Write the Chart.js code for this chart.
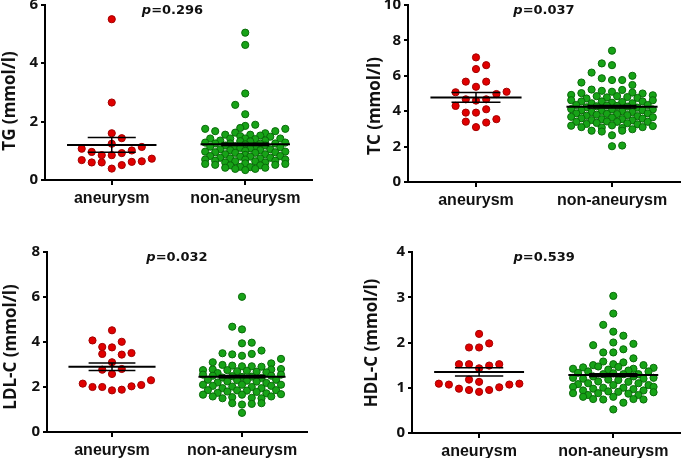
<!DOCTYPE html>
<html><head><meta charset="utf-8">
<script src="https://cdn.jsdelivr.net/npm/chart.js@4.4.1/dist/chart.umd.min.js"></script>
<style>
html,body{margin:0;padding:0;background:#fff;}
body{width:685px;height:458px;position:relative;overflow:hidden;}
canvas{position:absolute;}
</style></head><body>
<canvas id="c1" width="340" height="210" style="left:0;top:0"></canvas>
<canvas id="c2" width="345" height="210" style="left:340px;top:0"></canvas>
<canvas id="c3" width="340" height="218" style="left:0;top:240px"></canvas>
<canvas id="c4" width="345" height="218" style="left:340px;top:240px"></canvas>
<script>
// ---------- data ----------
const categories = ['aneurysm', 'non-aneurysm'];
const yTitles = ['TG (mmol/l)', 'TC (mmol/l)', 'LDL-C (mmol/l)', 'HDL-C (mmol/l)'];
const pValues = ['0.296', '0.037', '0.032', '0.539'];
const yMaxes = [6, 10, 8, 4];
const ySteps = [2, 2, 2, 1];
// [swarm column, value]
const tgAneurysm = [[0,5.50],[0,2.65],[0,1.60],[1,1.43],[0,1.24],[3,1.13],[-3,1.07],[-2,0.96],[2,1.01],[-1,0.85],[0,0.85],[1,0.92],[-3,0.68],[-2,0.60],[-1,0.60],[2,0.62],[3,0.64],[4,0.73],[1,0.51],[0,0.39]];
const tgNon = [[0,5.04],[0,4.62],[0,2.96],[-1,2.57],[0,2.25],[1,1.89],[0,1.85],[-0.5,1.78],
 [-4,1.75],[4,1.75],[-3,1.67],[3,1.67],[2,1.60],[-1,1.62],
 [-2,1.55],[0.5,1.55],[1.5,1.52],[-0.5,1.50],[2.5,1.48],
 [-3.5,1.42],[3.5,1.42],[-1.5,1.42],[0,1.42],[1,1.40],
 [-2.5,1.35],[2,1.35],[-0.5,1.33],[0.5,1.32],[-4,1.28],[4,1.28],
 [-3,1.25],[3,1.25],[-1.5,1.25],[1.5,1.24],[0,1.22],
 [-2,1.18],[2,1.18],[-1,1.15],[1,1.15],[-3.5,1.14],[3.5,1.12],
 [-0.5,1.10],[0.5,1.08],[-2.5,1.05],[2.5,1.05],[-1.5,1.02],[1.5,1.02],[0,1.00],
 [-4,0.97],[4,0.97],[-3,0.95],[3,0.95],[-1,0.93],[1,0.93],
 [-2,0.88],[2,0.88],[0,0.86],[-3.5,0.82],[3.5,0.82],[-0.5,0.80],[0.5,0.80],
 [-2.5,0.76],[2.5,0.76],[-1.5,0.74],[1.5,0.74],[-4,0.70],[4,0.70],
 [0,0.70],[-3,0.66],[3,0.66],[-1,0.64],[1,0.64],[-2,0.60],[2,0.60],
 [-4,0.55],[4,0.55],[0,0.57],[-3,0.52],[3,0.52],[-1.5,0.50],[1.5,0.50],
 [-0.5,0.45],[0.5,0.44],[-2,0.42],[2,0.42],[-1,0.38],[1,0.38],[0,0.34]];
const tcAneurysm = [[0,7.04],[1,6.60],[0,6.38],[-1,5.67],[1,5.67],[0,5.38],[-2,5.07],[3,5.10],[2,4.97],[-1,4.67],[1,4.67],[0,4.60],[-2,4.30],[1,4.11],[-1,3.92],[0,3.92],[2,3.55],[-1,3.41],[1,3.36],[0,3.10]];
const tcNon = [[0,7.42],[-1,6.70],[0,6.60],[-2,6.18],[2,6.00],[-1,5.86],[0,5.76],[1,5.76],[-3,5.62],[2,5.48],
 [-2,5.22],[1,5.20],[-1,5.15],[0,5.10],[2,5.05],[-3,5.02],[3,5.00],[-4,4.92],[4,4.90],
 [-1.5,4.85],[0.5,4.85],[1.5,4.80],[-0.5,4.78],[2.5,4.75],[-2.5,4.72],
 [-4,4.62],[4,4.62],[-3,4.55],[3,4.55],[-1,4.55],[1,4.52],[0,4.48],[-2,4.45],[2,4.45],
 [-3.5,4.35],[3.5,4.35],[-0.5,4.32],[0.5,4.30],[-1.5,4.28],[1.5,4.26],[-2.5,4.22],[2.5,4.20],
 [-4,4.12],[4,4.10],[0,4.10],[-3,4.05],[3,4.05],[-1,4.02],[1,4.00],[-2,3.95],[2,3.95],
 [-3.5,3.88],[3.5,3.88],[-0.5,3.85],[0.5,3.84],[-1.5,3.80],[1.5,3.78],[-2.5,3.74],[2.5,3.72],
 [-4,3.68],[4,3.66],[0,3.64],[-3,3.60],[3,3.58],[-1,3.55],[1,3.55],[-2,3.50],[2,3.48],
 [-0.5,3.42],[0.5,3.40],[-3.5,3.40],[3.5,3.40],[-1.5,3.34],[1.5,3.32],[-2.5,3.28],[2.5,3.26],
 [-4,3.18],[4,3.16],[0,3.20],[-3,3.10],[3,3.10],[-1,3.08],[1,3.05],
 [-2,2.90],[2,2.98],[-1,2.85],[1,2.90],[0,2.64],[0,2.02],[1,2.06]];
const ldlAneurysm = [[0,4.52],[-2,4.07],[1,4.01],[-1,3.78],[0,3.76],[-1,3.47],[1,3.44],[2,3.51],[0,3.10],[-1,2.77],[1,2.80],[0,2.58],[-3,2.15],[4,2.30],[3,2.09],[-2,2.00],[-1,2.00],[2,2.03],[0,1.85],[1,1.88]];
const ldlNon = [[0,6.01],[-1,4.68],[0,4.56],[0,3.94],[1,3.97],[2,3.62],[-2,3.50],[-1,3.45],[0,3.39],[1,3.47],[4,3.25],[-3,3.10],[3,3.05],
 [-2,2.98],[-1,2.95],[0,2.92],[1,2.92],[2,2.90],[-4,2.75],[4,2.80],[-3,2.78],[3,2.78],
 [-1.5,2.75],[0.5,2.72],[-0.5,2.70],[1.5,2.68],[2.5,2.65],[-2.5,2.62],
 [-4,2.55],[4,2.55],[-3,2.50],[3,2.50],[-1,2.48],[1,2.46],[0,2.45],[-2,2.42],[2,2.40],
 [-3.5,2.32],[3.5,2.32],[-0.5,2.30],[0.5,2.28],[-1.5,2.25],[1.5,2.24],[-2.5,2.20],[2.5,2.18],
 [-4,2.10],[4,2.10],[0,2.10],[-3,2.05],[3,2.05],[-1,2.02],[1,2.00],[-2,1.95],[2,1.95],
 [-3.5,1.86],[3.5,1.86],[-0.5,1.85],[0.5,1.84],[-1.5,1.80],[1.5,1.78],[-2.5,1.74],[2.5,1.72],
 [-4,1.66],[4,1.68],[0,1.66],[-3,1.58],[3,1.58],[-1,1.55],[1,1.52],[-2,1.50],[2,1.50],
 [-1,1.28],[0,1.22],[1,1.25],[2,1.28],[0,0.85]];
const hdlAneurysm = [[0,2.19],[1,1.98],[-1,1.89],[0,1.89],[-2,1.52],[-1,1.52],[1,1.49],[2,1.52],[0,1.43],[-1,1.18],[0,1.13],[-4,1.09],[-3,1.07],[3,1.07],[4,1.09],[-2,0.98],[-1,0.95],[1,0.95],[2,1.01],[0,0.91]];
const hdlNon = [[0,3.03],[0,2.64],[-1,2.39],[0,2.24],[1,2.15],[-2,1.94],[0,2.00],[2,1.97],[1,1.85],[-1,1.78],[0,1.78],[2,1.65],
 [-1,1.58],[1,1.56],[0,1.52],[-2,1.50],[3,1.50],[-1.5,1.47],[0.5,1.46],[-3,1.45],[4,1.44],[-4,1.42],[2,1.42],[-0.5,1.40],[1.5,1.38],[3.5,1.36],
 [-2.5,1.36],[-3.5,1.33],[0,1.32],[-1,1.30],[1,1.30],[2.5,1.30],[-2,1.25],[2,1.25],[-4,1.22],[4,1.22],[-3,1.20],[3,1.20],[-0.5,1.18],[0.5,1.17],
 [-1.5,1.14],[1.5,1.13],[-2.5,1.10],[2.5,1.10],[-3.5,1.08],[3.5,1.06],[0,1.06],[-4,1.02],[4,1.02],[-1,1.00],[1,1.00],[-2,0.98],[2,0.97],[-3,0.94],[3,0.94],
 [-0.5,0.92],[0.5,0.91],[-1.5,0.88],[1.5,0.87],[-4,0.88],[4,0.90],[-2.5,0.84],[2.5,0.84],[-3,0.80],[0,0.80],[-2,0.75],[-1,0.74],[2,0.75],[3,0.74],[1,0.67],[0,0.52]];
const means = [[1.20, 1.22], [4.78, 4.25], [2.90, 2.46], [1.35, 1.28]];
const sems  = [[0.25, 0.04], [0.28, 0.07], [0.17, 0.05], [0.09, 0.03]];

// ---------- drawing ----------
const COLORS = [{fill:'#e00000', line:'#a30000'}, {fill:'#17a317', line:'#0a6a0a'}];
const COL_STEP = 0.075;
const INK = '#111';

function panel(id, idx, groups, L) {
  const cv = document.getElementById(id);
  const W = cv.width, H = cv.height;
  const datasets = groups.map((g, i) => ({
    data: g.map(([c, v]) => ({x: i + 1 + c * COL_STEP, y: v})),
    backgroundColor: COLORS[i].fill, borderColor: COLORS[i].line,
    borderWidth: 1, pointRadius: 3.6, pointHoverRadius: 3.6
  }));
  const overlay = {
    id: 'overlay' + idx,
    afterDatasetsDraw(chart) {
      const {ctx, scales: {x, y}, chartArea} = chart;
      ctx.save();
      ctx.strokeStyle = '#000';
      const seg = (x1, y1, x2, y2, lw) => { ctx.lineWidth = lw; ctx.beginPath(); ctx.moveTo(x1, y1); ctx.lineTo(x2, y2); ctx.stroke(); };
      means[idx].forEach((m, i) => {
        const cx = x.getPixelForValue(i + 1);
        const hw = x.getPixelForValue(i + 1.335) - cx;
        const hs = x.getPixelForValue(i + 1.18) - cx;
        const ym = y.getPixelForValue(m);
        const yh = y.getPixelForValue(m + sems[idx][i]);
        const yl = y.getPixelForValue(m - sems[idx][i]);
        seg(cx - hs, yh, cx + hs, yh, 1.5);
        seg(cx - hs, yl, cx + hs, yl, 1.5);
        seg(cx, yh, cx, yl, 1.5);
        seg(cx - hw, ym, cx + hw, ym, 2);
      });
      // p-value caption
      const pFont = 'italic bold 13px "DejaVu Sans"', rFont = 'bold 13px "DejaVu Sans"';
      ctx.fillStyle = INK; ctx.textBaseline = 'middle'; ctx.textAlign = 'left';
      ctx.font = pFont; const w1 = ctx.measureText('p').width;
      ctx.font = rFont; const w2 = ctx.measureText('=' + pValues[idx]).width;
      const tx = (chartArea.left + chartArea.right) / 2 + L.pdx - (w1 + w2) / 2;
      const ty = chartArea.top + 6;
      ctx.font = pFont; ctx.fillText('p', tx, ty);
      ctx.font = rFont; ctx.fillText('=' + pValues[idx], tx + w1, ty);
      // y-axis title
      ctx.translate(L.tx, L.ty);
      ctx.rotate(-Math.PI / 2);
      ctx.textAlign = 'center';
      ctx.font = 'bold 17px "Open Sans"';
      ctx.fillText(yTitles[idx], 0, 0);
      ctx.restore();
    }
  };
  return new Chart(cv, {
    type: 'scatter',
    data: {datasets},
    options: {
      responsive: false, animation: false, events: [],
      layout: {padding: {left: 0, top: L.top, right: W - L.right, bottom: 0}},
      plugins: {legend: {display: false}, tooltip: {enabled: false}},
      scales: {
        x: {
          type: 'linear', min: 0.5, max: 2.5,
          afterBuildTicks: s => { s.ticks = categories.map((c, i) => ({value: i + 1})); },
          ticks: {callback: v => categories[Math.round(v) - 1], autoSkip: false, maxRotation: 0,
                  font: {family: 'Liberation Sans', weight: 'bold', size: 16}, color: INK, padding: 4},
          grid: {drawOnChartArea: false, drawTicks: true, tickLength: 5, color: '#000', lineWidth: 2},
          border: {display: true, color: '#000', width: 2},
          afterFit: s => { s.height = H - L.bottom; s.paddingLeft = 0; s.paddingRight = 0; }
        },
        y: {
          min: 0, max: yMaxes[idx],
          ticks: {stepSize: ySteps[idx], font: {family: 'Open Sans', weight: 'bold', size: 15}, color: INK, padding: 3},
          grid: {drawOnChartArea: false, drawTicks: true, tickLength: 4, color: '#000', lineWidth: 2},
          border: {display: true, color: '#000', width: 2},
          afterFit: s => { s.width = L.left; s.paddingTop = 0; s.paddingBottom = 0; }
        }
      }
    },
    plugins: [overlay]
  });
}

panel('c1', 0, [tgAneurysm, tgNon], {left: 45, right: 312, top: 3, bottom: 180, tx: 10, ty: 101, pdx: -6});
panel('c2', 1, [tcAneurysm, tcNon], {left: 68, right: 340, top: 5, bottom: 182, tx: 35, ty: 106, pdx: 0});
panel('c3', 2, [ldlAneurysm, ldlNon], {left: 47, right: 307, top: 12, bottom: 192, tx: 11, ty: 107, pdx: 0});
panel('c4', 3, [hdlAneurysm, hdlNon], {left: 72, right: 342, top: 12, bottom: 193, tx: 32, ty: 103, pdx: -2});
</script>
</body></html>
